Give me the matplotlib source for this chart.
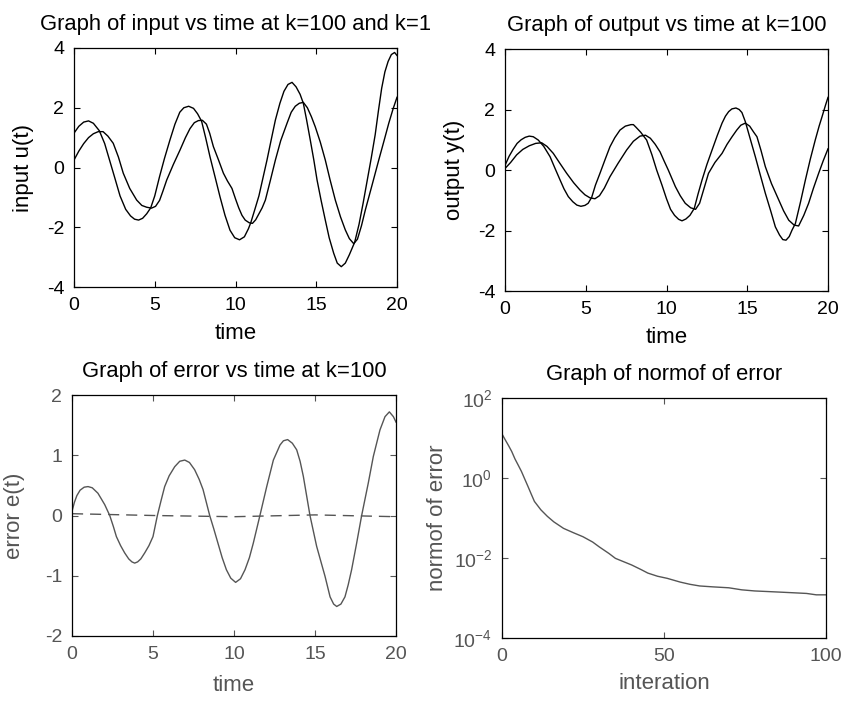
import matplotlib
matplotlib.use('Agg')
import matplotlib.pyplot as plt

plt.rcParams['font.family'] = ['Liberation Sans', 'DejaVu Sans']
plt.rcParams['font.size'] = 14
plt.rcParams['mathtext.default'] = 'regular'
plt.rcParams['axes.unicode_minus'] = False

# input u(t), two iterations
t_u1 = [0, 0.3, 0.6, 0.9, 1.2, 1.57, 1.9, 2.2, 2.5, 2.85, 3.2, 3.5, 3.75, 4.0, 4.25, 4.5, 4.75, 5.0,
        5.3, 5.6, 5.94, 6.25, 6.55, 6.8, 7.1, 7.4, 7.65, 7.9, 8.15, 8.42, 8.75, 9.04, 9.35, 9.66, 9.95,
        10.25, 10.55, 10.8, 10.95, 11.2, 11.45, 11.7, 11.95, 12.2, 12.47, 12.75, 13.0, 13.25, 13.5,
        13.75, 14.0, 14.2, 14.4, 14.63, 14.85, 15.05, 15.3, 15.56, 15.8, 16.08, 16.3, 16.55, 16.8,
        17.05, 17.38, 17.65, 17.9, 18.15, 18.4, 18.65, 18.85, 19.05, 19.25, 19.45, 19.65, 19.85, 20]
u1 = [1.15, 1.38, 1.52, 1.56, 1.48, 1.23, 0.8, 0.25, -0.3, -0.95, -1.4, -1.62, -1.73, -1.76, -1.7,
      -1.55, -1.35, -0.95, -0.3, 0.3, 0.92, 1.45, 1.85, 2.0, 2.05, 1.98, 1.8, 1.55, 1.0, 0.36, -0.35,
      -0.98, -1.6, -2.1, -2.35, -2.42, -2.32, -2.05, -1.84, -1.4, -0.95, -0.35, 0.25, 0.9, 1.59, 2.15,
      2.55, 2.78, 2.85, 2.7, 2.45, 2.15, 1.6, 0.92, 0.25, -0.42, -1.1, -1.76, -2.35, -2.87, -3.2,
      -3.32, -3.2, -2.92, -2.5, -1.9, -1.2, -0.45, 0.3, 1.1, 1.9, 2.65, 3.2, 3.55, 3.78, 3.85, 3.75]
t_u2 = [0, 0.3, 0.6, 0.9, 1.2, 1.5, 1.8, 2.1, 2.43, 2.75, 3.05, 3.45, 3.88, 4.2, 4.5, 4.8, 5.05, 5.3,
        5.5, 5.74, 6.15, 6.56, 6.9, 7.18, 7.45, 7.7, 7.95, 8.2, 8.4, 8.63, 8.95, 9.25, 9.5, 9.78, 10.0,
        10.2, 10.4, 10.6, 10.85, 11.05, 11.25, 11.45, 11.65, 11.85, 12.15, 12.47, 12.8, 13.19, 13.45,
        13.7, 13.95, 14.2, 14.45, 14.7, 14.94, 15.25, 15.56, 15.85, 16.18, 16.5, 16.8, 17.05, 17.32,
        17.55, 17.8, 18.04, 18.45, 18.87, 19.2, 19.49, 19.75, 20]
u2 = [0.25, 0.55, 0.8, 1.0, 1.13, 1.2, 1.2, 1.05, 0.81, 0.35, -0.19, -0.7, -1.09, -1.27, -1.33, -1.36,
      -1.3, -1.1, -0.8, -0.42, 0.1, 0.58, 1.0, 1.3, 1.5, 1.57, 1.58, 1.45, 1.15, 0.7, 0.25, -0.19,
      -0.45, -0.7, -1.05, -1.35, -1.6, -1.76, -1.85, -1.87, -1.75, -1.55, -1.35, -1.09, -0.45, 0.25,
      0.9, 1.48, 1.85, 2.05, 2.15, 2.18, 2.0, 1.7, 1.36, 0.85, 0.25, -0.4, -1.09, -1.65, -2.09, -2.38,
      -2.55, -2.4, -1.95, -1.42, -0.6, 0.25, 0.9, 1.48, 1.95, 2.35]

# output y(t)
t_y1 = [0, 0.25, 0.5, 0.75, 1.0, 1.25, 1.5, 1.75, 2.06, 2.4, 2.79, 3.1, 3.41, 3.65, 3.92, 4.2, 4.45,
        4.7, 4.95, 5.15, 5.37, 5.6, 5.88, 6.2, 6.5, 6.8, 7.12, 7.45, 7.8, 7.95, 8.1, 8.4, 8.77, 9.1,
        9.39, 9.72, 10.0, 10.25, 10.5, 10.75, 10.96, 11.2, 11.45, 11.72, 11.95, 12.2, 12.5, 12.82,
        13.15, 13.44, 13.65, 13.85, 14.05, 14.3, 14.5, 14.67, 14.88, 15.2, 15.5, 15.8, 16.12, 16.45,
        16.74, 17.0, 17.2, 17.4, 17.6, 17.77, 17.98, 18.3, 18.6, 18.9, 19.21, 19.45, 19.63, 19.85, 20]
y1 = [0.15, 0.45, 0.68, 0.88, 1.0, 1.08, 1.12, 1.1, 0.99, 0.78, 0.44, 0.05, -0.33, -0.62, -0.88,
      -1.05, -1.16, -1.2, -1.17, -1.1, -0.9, -0.5, -0.11, 0.35, 0.77, 1.07, 1.32, 1.45, 1.5, 1.5,
      1.42, 1.25, 0.99, 0.5, 0.0, -0.5, -0.95, -1.3, -1.5, -1.63, -1.68, -1.62, -1.5, -1.27, -0.8,
      -0.33, 0.18, 0.66, 1.15, 1.55, 1.78, 1.93, 2.02, 2.05, 2.0, 1.9, 1.6, 1.0, 0.44, -0.15, -0.77,
      -1.35, -1.88, -2.15, -2.3, -2.32, -2.2, -1.99, -1.77, -1.05, -0.33, 0.35, 0.99, 1.45, 1.76,
      2.15, 2.4]
t_y2 = [0, 0.35, 0.72, 1.1, 1.5, 1.9, 2.27, 2.6, 2.99, 3.4, 3.82, 4.25, 4.64, 4.95, 5.26, 5.57, 5.85,
        6.15, 6.5, 7.0, 7.53, 7.95, 8.36, 8.7, 9.0, 9.3, 9.6, 9.85, 10.11, 10.35, 10.55, 10.85, 11.16,
        11.5, 11.8, 12.05, 12.3, 12.6, 13.0, 13.44, 13.75, 14.06, 14.35, 14.6, 14.88, 15.15, 15.4,
        15.6, 15.85, 16.12, 16.5, 16.95, 17.25, 17.57, 17.9, 18.18, 18.5, 18.8, 19.1, 19.42, 19.7, 20]
y2 = [0.05, 0.25, 0.5, 0.68, 0.8, 0.88, 0.9, 0.78, 0.55, 0.22, -0.11, -0.42, -0.66, -0.82, -0.92,
      -0.95, -0.85, -0.6, -0.22, 0.22, 0.66, 0.95, 1.12, 1.15, 1.05, 0.85, 0.6, 0.3, 0.0, -0.3, -0.55,
      -0.85, -1.1, -1.25, -1.3, -1.1, -0.65, -0.11, 0.25, 0.55, 0.85, 1.1, 1.32, 1.48, 1.55, 1.45,
      1.25, 1.1, 0.65, 0.11, -0.45, -0.99, -1.35, -1.66, -1.82, -1.85, -1.5, -1.1, -0.6, -0.11, 0.3,
      0.7]

# error e(t)
t_e = [0, 0.15, 0.3, 0.5, 0.75, 0.99, 1.25, 1.6, 1.8, 2.02, 2.33, 2.55, 2.74, 3.0, 3.25, 3.5, 3.7,
       3.87, 4.05, 4.25, 4.49, 4.75, 5.0, 5.27, 5.5, 5.72, 6.0, 6.34, 6.65, 6.96, 7.25, 7.57, 7.85,
       8.09, 8.5, 8.75, 9.01, 9.27, 9.53, 9.8, 10.1, 10.4, 10.68, 10.95, 11.19, 11.6, 12.02, 12.43,
       12.84, 13.05, 13.31, 13.6, 13.87, 14.08, 14.28, 14.69, 15.1, 15.38, 15.62, 15.93, 16.15, 16.34,
       16.6, 16.85, 17.05, 17.26, 17.57, 17.88, 18.29, 18.6, 19.01, 19.32, 19.59, 19.84, 20]
e1 = [0.07, 0.22, 0.33, 0.42, 0.47, 0.48, 0.46, 0.37, 0.28, 0.18, 0.0, -0.18, -0.35, -0.5, -0.62,
      -0.72, -0.77, -0.79, -0.77, -0.72, -0.62, -0.5, -0.35, 0.0, 0.25, 0.48, 0.66, 0.81, 0.9, 0.92,
      0.88, 0.76, 0.6, 0.43, 0.0, -0.22, -0.46, -0.7, -0.9, -1.04, -1.11, -1.05, -0.9, -0.7, -0.46,
      0.0, 0.48, 0.92, 1.17, 1.24, 1.26, 1.2, 1.09, 0.9, 0.65, 0.0, -0.51, -0.78, -1.01, -1.35, -1.47,
      -1.51, -1.47, -1.35, -1.15, -0.9, -0.46, 0.0, 0.54, 0.98, 1.42, 1.64, 1.72, 1.64, 1.55]
t_e2 = [0, 5, 10, 15, 20]
e2 = [0.03, 0.0, -0.02, 0.01, -0.02]

# norm of error per iteration
it = [0, 1, 2, 3, 4, 5, 6, 7, 8, 9, 10, 12, 14, 16, 19, 22, 25, 28, 30, 33, 35, 38, 40, 43, 45, 48,
      51, 55, 58, 61, 65, 70, 74, 78, 82, 86, 90, 94, 97, 100]
enorm = [12.6, 9.0, 6.5, 4.6, 3.0, 2.1, 1.46, 0.95, 0.62, 0.4, 0.26, 0.16, 0.11, 0.08, 0.055, 0.043,
         0.034, 0.025, 0.019, 0.013, 0.0098, 0.0078, 0.0067, 0.0051, 0.0042, 0.0035, 0.0031, 0.0025,
         0.0022, 0.002, 0.0019, 0.0018, 0.0016, 0.0015, 0.00145, 0.0014, 0.00135, 0.0013, 0.0012,
         0.0012]

W, H = 845, 702
TITLE = 15.8
LABEL = 16

def box(l, t, r, b):
    return [l / W, 1 - b / H, (r - l) / W, (b - t) / H]

def style(ax, col='black'):
    ax.tick_params(direction='in', top=True, right=True, length=4, pad=7, colors=col, labelcolor=col)
    for s in ax.spines.values():
        s.set_color('black')
        s.set_linewidth(0.9)

fig = plt.figure(figsize=(8.45, 7.02), dpi=100)

ax1 = fig.add_axes(box(74, 48, 397, 287))
ax1.plot(t_u1, u1, color='black', lw=1.0)
ax1.plot(t_u2, u2, color='black', lw=1.0)
ax1.set_xlim(0, 20); ax1.set_ylim(-4, 4)
ax1.set_xticks([0, 5, 10, 15, 20]); ax1.set_yticks([-4, -2, 0, 2, 4])
ax1.set_title('Graph of input vs time at k=100 and k=1', pad=13, fontsize=TITLE)
ax1.set_xlabel('time', labelpad=7, fontsize=LABEL)
ax1.set_ylabel('input u(t)', labelpad=9, fontsize=LABEL)
style(ax1)

ax2 = fig.add_axes(box(505, 49, 828, 291))
ax2.plot(t_y1, y1, color='black', lw=1.0)
ax2.plot(t_y2, y2, color='black', lw=1.0)
ax2.set_xlim(0, 20); ax2.set_ylim(-4, 4)
ax2.set_xticks([0, 5, 10, 15, 20]); ax2.set_yticks([-4, -2, 0, 2, 4])
ax2.set_title('Graph of output vs time at k=100', pad=13, fontsize=TITLE)
ax2.set_xlabel('time', labelpad=7, fontsize=LABEL)
ax2.set_ylabel('output y(t)', labelpad=9, fontsize=LABEL)
style(ax2)

grey = '#555555'
ax3 = fig.add_axes(box(72, 395, 396, 636))
ax3.plot(t_e, e1, color=grey, lw=1.0)
ax3.plot(t_e2, e2, color=grey, lw=1.0, ls=(0, (8, 5)))
ax3.set_xlim(0, 20); ax3.set_ylim(-2, 2)
ax3.set_xticks([0, 5, 10, 15, 20]); ax3.set_yticks([-2, -1, 0, 1, 2])
ax3.set_title('Graph of error vs time at k=100', pad=13, fontsize=TITLE)
ax3.set_xlabel('time', labelpad=9, color=grey, fontsize=LABEL)
ax3.set_ylabel('error e(t)', labelpad=14, color=grey, fontsize=LABEL)
style(ax3, grey)

ax4 = fig.add_axes(box(502, 398, 826, 638))
ax4.semilogy(it, enorm, color=grey, lw=1.0)
ax4.set_xlim(0, 100); ax4.set_ylim(1e-4, 1e2)
ax4.set_xticks([0, 50, 100])
ax4.set_yticks([1e-4, 1e-2, 1e0, 1e2])
ax4.set_yticklabels(['$10^{-4}$', '$10^{-2}$', '$10^{0}$', '$10^{2}$'])
ax4.minorticks_off()
ax4.set_title('Graph of normof of error', pad=13, fontsize=TITLE)
ax4.set_xlabel('interation', labelpad=6, color=grey, fontsize=LABEL)
ax4.set_ylabel('normof of error', labelpad=4, color=grey, fontsize=LABEL)
style(ax4, grey)

fig.savefig('out.png', dpi=100)
